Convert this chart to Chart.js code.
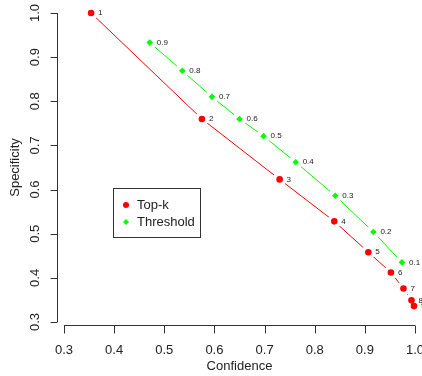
<!DOCTYPE html>
<html>
<head>
<meta charset="utf-8">
<script src="https://cdn.jsdelivr.net/npm/chart.js@4"></script>
<style>
  body { margin: 0; background: #fff; }
  #wrap { width: 422px; height: 376px; }
</style>
</head>
<body>
<div id="wrap"><canvas id="myChart" width="422" height="376"></canvas></div>
<script>
// Top-k series
const topkConfidence = [0.354, 0.575, 0.730, 0.839, 0.907, 0.952, 0.977, 0.993, 0.998];
const topkSpecificity = [1.000, 0.760, 0.623, 0.528, 0.458, 0.412, 0.376, 0.349, 0.336];
const topkLabels = ['1', '2', '3', '4', '5', '6', '7', '8', '9'];

// Threshold series
const threshConfidence = [0.471, 0.536, 0.595, 0.650, 0.698, 0.762, 0.841, 0.917, 0.974];
const threshSpecificity = [0.933, 0.869, 0.810, 0.760, 0.721, 0.662, 0.586, 0.504, 0.435];
const threshLabels = ['0.9', '0.8', '0.7', '0.6', '0.5', '0.4', '0.3', '0.2', '0.1'];

const xTicks = [0.3, 0.4, 0.5, 0.6, 0.7, 0.8, 0.9, 1.0];
const yTicks = [0.3, 0.4, 0.5, 0.6, 0.7, 0.8, 0.9, 1.0];

const FONT = '"Liberation Sans", Arial, sans-serif';

const toPoints = (xs, ys) => xs.map((x, i) => ({ x: x, y: ys[i] }));

// R style axes (drawn from the chart's own scales)
const rAxes = {
    id: 'rAxes',
    afterDraw(chart) {
        const ctx = chart.ctx;
        const xs = chart.scales.x, ys = chart.scales.y;
        ctx.save();
        ctx.strokeStyle = '#333';
        ctx.lineWidth = 1;
        ctx.fillStyle = '#222';
        ctx.font = '13px ' + FONT;

        // x axis
        const ay = 325.5;
        ctx.beginPath();
        ctx.moveTo(xs.getPixelForValue(xTicks[0]), ay);
        ctx.lineTo(xs.getPixelForValue(xTicks[xTicks.length - 1]), ay);
        xTicks.forEach(t => {
            const px = Math.round(xs.getPixelForValue(t)) + 0.5;
            ctx.moveTo(px, ay);
            ctx.lineTo(px, ay + 8);
        });
        ctx.stroke();
        ctx.textAlign = 'center';
        ctx.textBaseline = 'middle';
        xTicks.forEach(t => {
            ctx.fillText(t.toFixed(1), xs.getPixelForValue(t), 350);
        });
        ctx.fillText('Confidence', (xs.left + xs.right) / 2, 366);

        // y axis
        const ax = 57.5;
        ctx.beginPath();
        ctx.moveTo(ax, ys.getPixelForValue(yTicks[0]));
        ctx.lineTo(ax, ys.getPixelForValue(yTicks[yTicks.length - 1]));
        yTicks.forEach(t => {
            const py = Math.round(ys.getPixelForValue(t)) + 0.5;
            ctx.moveTo(ax, py);
            ctx.lineTo(ax - 7, py);
        });
        ctx.stroke();
        yTicks.forEach(t => {
            ctx.save();
            ctx.translate(35, ys.getPixelForValue(t));
            ctx.rotate(-Math.PI / 2);
            ctx.fillText(t.toFixed(1), 0, 0);
            ctx.restore();
        });
        ctx.save();
        ctx.translate(15, (ys.top + ys.bottom) / 2);
        ctx.rotate(-Math.PI / 2);
        ctx.fillText('Specificity', 0, 0);
        ctx.restore();

        // legend box
        ctx.strokeRect(113.5, 188.5, 87, 49);
        ctx.fillStyle = '#ff0000';
        ctx.beginPath();
        ctx.arc(126, 205, 3, 0, Math.PI * 2);
        ctx.fill();
        ctx.fillStyle = '#00ff00';
        ctx.beginPath();
        ctx.moveTo(126, 219);
        ctx.lineTo(129, 222);
        ctx.lineTo(126, 225);
        ctx.lineTo(123, 222);
        ctx.closePath();
        ctx.fill();
        ctx.fillStyle = '#222';
        ctx.textAlign = 'left';
        ctx.fillText('Top-k', 137, 205);
        ctx.fillText('Threshold', 137, 222);
        ctx.restore();
    }
};

// small text labels beside each point
const pointLabels = {
    id: 'pointLabels',
    afterDatasetsDraw(chart) {
        const ctx = chart.ctx;
        ctx.save();
        ctx.font = '8px ' + FONT;
        ctx.fillStyle = '#222';
        ctx.textAlign = 'left';
        ctx.textBaseline = 'middle';
        chart.data.datasets.forEach((ds, di) => {
            if (!ds.pointText) return;
            chart.getDatasetMeta(di).data.forEach((pt, i) => {
                ctx.fillText(ds.pointText[i], pt.x + 7, pt.y);
            });
        });
        ctx.restore();
    }
};

const topkPts = toPoints(topkConfidence, topkSpecificity);
const threshPts = toPoints(threshConfidence, threshSpecificity);

new Chart(document.getElementById('myChart').getContext('2d'), {
    type: 'scatter',
    data: {
        datasets: [
            {   // line with white gaps round the points (R type = "b")
                label: 'Top-k line',
                data: topkPts,
                showLine: true,
                borderColor: '#ff0000',
                borderWidth: 1,
                pointRadius: 7,
                pointBackgroundColor: '#ffffff',
                pointBorderWidth: 0,
                order: 3,
                clip: false
            },
            {
                label: 'Threshold line',
                data: threshPts,
                showLine: true,
                borderColor: '#00ff00',
                borderWidth: 1,
                pointRadius: 7,
                pointBackgroundColor: '#ffffff',
                pointBorderWidth: 0,
                order: 4,
                clip: false
            },
            {
                label: 'Top-k',
                data: topkPts,
                showLine: false,
                pointStyle: 'circle',
                pointRadius: 3.3,
                pointBackgroundColor: '#ff0000',
                pointBorderWidth: 0,
                pointText: topkLabels,
                order: 1,
                clip: false
            },
            {
                label: 'Threshold',
                data: threshPts,
                showLine: false,
                pointStyle: 'rectRot',
                pointRadius: 3.3,
                pointBackgroundColor: '#00ff00',
                pointBorderWidth: 0,
                pointText: threshLabels,
                order: 2,
                clip: false
            }
        ]
    },
    options: {
        responsive: false,
        animation: false,
        events: [],
        layout: { padding: { left: 64, right: 6.3, top: 13, bottom: 54 } },
        scales: {
            x: { type: 'linear', min: 0.3, max: 1.0, display: false },
            y: { type: 'linear', min: 0.3, max: 1.0, display: false }
        },
        plugins: {
            legend: { display: false },
            tooltip: { enabled: false }
        }
    },
    plugins: [pointLabels, rAxes]
});
</script>
</body>
</html>
